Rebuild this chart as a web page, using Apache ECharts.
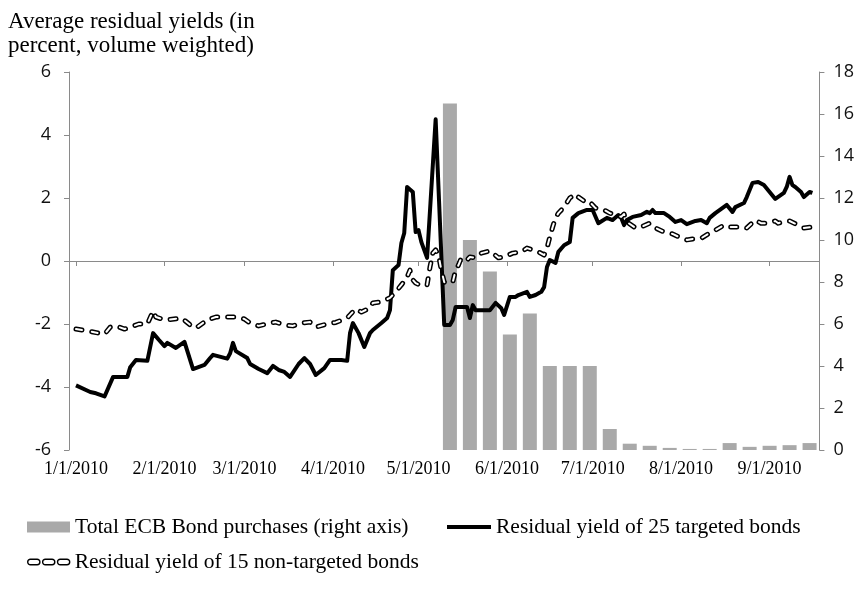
<!DOCTYPE html>
<html>
<head>
<meta charset="utf-8">
<script src="https://cdn.jsdelivr.net/npm/echarts@6/dist/echarts.min.js"></script>
<style>
html,body{margin:0;padding:0;background:#fff;}
#chart{width:857px;height:597px;}
</style>
</head>
<body>
<div id="chart"></div>
<script>
const leftAxisTicks = [-6, -4, -2, 0, 2, 4, 6];
const rightAxisTicks = [0, 2, 4, 6, 8, 10, 12, 14, 16, 18];

const purchaseDates = ['2010-05-12','2010-05-19','2010-05-26','2010-06-02','2010-06-09','2010-06-16','2010-06-23','2010-06-30','2010-07-07','2010-07-14','2010-07-21','2010-07-28','2010-08-04','2010-08-11','2010-08-18','2010-08-25','2010-09-01','2010-09-08','2010-09-15'];
const purchases = [16.5, 10.0, 8.5, 5.5, 6.5, 4.0, 4.0, 4.0, 1.0, 0.3, 0.2, 0.1, 0.05, 0.05, 0.33, 0.15, 0.2, 0.23, 0.33];

const targetedDates = ['2010-01-01','2010-01-06','2010-01-08','2010-01-11','2010-01-14','2010-01-19','2010-01-20','2010-01-22','2010-01-26','2010-01-28','2010-01-30','2010-02-01','2010-02-02','2010-02-05','2010-02-08','2010-02-11','2010-02-15','2010-02-17','2010-02-18','2010-02-23','2010-02-24','2010-02-25','2010-02-26','2010-03-02','2010-03-03','2010-03-06','2010-03-09','2010-03-11','2010-03-13','2010-03-15','2010-03-17','2010-03-20','2010-03-22','2010-03-24','2010-03-26','2010-03-29','2010-03-31','2010-04-04','2010-04-06','2010-04-07','2010-04-08','2010-04-10','2010-04-12','2010-04-14','2010-04-15','2010-04-18','2010-04-20','2010-04-21','2010-04-22','2010-04-24','2010-04-25','2010-04-26','2010-04-27','2010-04-29','2010-04-30','2010-05-01','2010-05-02','2010-05-04','2010-05-07','2010-05-10','2010-05-12','2010-05-13','2010-05-14','2010-05-16','2010-05-18','2010-05-19','2010-05-20','2010-05-21','2010-05-26','2010-05-28','2010-05-30','2010-05-31','2010-06-02','2010-06-04','2010-06-05','2010-06-08','2010-06-09','2010-06-11','2010-06-13','2010-06-14','2010-06-15','2010-06-16','2010-06-18','2010-06-19','2010-06-21','2010-06-23','2010-06-24','2010-06-26','2010-06-29','2010-07-01','2010-07-03','2010-07-06','2010-07-08','2010-07-10','2010-07-11','2010-07-12','2010-07-13','2010-07-15','2010-07-18','2010-07-20','2010-07-21','2010-07-22','2010-07-23','2010-07-26','2010-07-28','2010-07-30','2010-08-01','2010-08-03','2010-08-06','2010-08-08','2010-08-10','2010-08-11','2010-08-13','2010-08-17','2010-08-19','2010-08-20','2010-08-23','2010-08-24','2010-08-26','2010-08-28','2010-08-30','2010-09-01','2010-09-03','2010-09-06','2010-09-07','2010-09-08','2010-09-09','2010-09-10','2010-09-12','2010-09-13','2010-09-15','2010-09-16'];
const targetedYield = [-3.95,-4.16,-4.2,-4.3,-3.68,-3.68,-3.37,-3.14,-3.17,-2.29,-2.5,-2.7,-2.6,-2.76,-2.57,-3.43,-3.3,-3.08,-2.98,-3.1,-2.93,-2.6,-2.86,-3.08,-3.27,-3.43,-3.56,-3.33,-3.46,-3.52,-3.68,-3.27,-3.08,-3.27,-3.62,-3.4,-3.14,-3.14,-3.17,-2.29,-1.97,-2.29,-2.73,-2.29,-2.19,-1.97,-1.81,-1.56,-0.29,-0.13,0.57,0.89,2.35,2.19,0.92,0.98,0.6,0.1,4.5,-2.03,-2.03,-1.87,-1.46,-1.46,-1.46,-1.81,-1.4,-1.56,-1.56,-1.33,-1.5,-1.71,-1.14,-1.14,-1.08,-0.98,-1.14,-1.08,-0.98,-0.83,-0.19,0.03,-0.06,0.29,0.5,0.6,1.37,1.52,1.62,1.62,1.2,1.37,1.3,1.46,1.37,1.14,1.3,1.4,1.46,1.56,1.52,1.62,1.52,1.52,1.4,1.24,1.3,1.17,1.27,1.3,1.2,1.37,1.52,1.78,1.56,1.71,1.84,2.03,2.48,2.51,2.41,2.19,1.97,2.16,2.35,2.67,2.41,2.35,2.19,2.03,2.19,2.16];

const nonTargetedDates = ['2010-01-01','2010-01-05','2010-01-09','2010-01-11','2010-01-13','2010-01-15','2010-01-18','2010-01-20','2010-01-23','2010-01-26','2010-01-28','2010-01-29','2010-01-31','2010-02-02','2010-02-07','2010-02-10','2010-02-12','2010-02-16','2010-02-19','2010-02-23','2010-02-26','2010-03-01','2010-03-03','2010-03-06','2010-03-10','2010-03-12','2010-03-15','2010-03-18','2010-03-21','2010-03-24','2010-03-26','2010-03-31','2010-04-02','2010-04-06','2010-04-07','2010-04-09','2010-04-11','2010-04-14','2010-04-15','2010-04-18','2010-04-21','2010-04-23','2010-04-25','2010-04-27','2010-04-28','2010-04-29','2010-04-30','2010-05-02','2010-05-04','2010-05-05','2010-05-06','2010-05-07','2010-05-08','2010-05-09','2010-05-10','2010-05-11','2010-05-13','2010-05-14','2010-05-15','2010-05-16','2010-05-18','2010-05-19','2010-05-21','2010-05-23','2010-05-26','2010-05-27','2010-05-29','2010-05-31','2010-06-03','2010-06-06','2010-06-08','2010-06-10','2010-06-12','2010-06-14','2010-06-15','2010-06-16','2010-06-17','2010-06-18','2010-06-19','2010-06-21','2010-06-23','2010-06-25','2010-06-26','2010-06-29','2010-06-30','2010-07-02','2010-07-03','2010-07-05','2010-07-07','2010-07-09','2010-07-11','2010-07-12','2010-07-13','2010-07-16','2010-07-18','2010-07-21','2010-07-23','2010-07-26','2010-07-29','2010-08-01','2010-08-03','2010-08-05','2010-08-08','2010-08-11','2010-08-13','2010-08-16','2010-08-18','2010-08-22','2010-08-24','2010-08-27','2010-08-29','2010-08-31','2010-09-03','2010-09-04','2010-09-07','2010-09-08','2010-09-11','2010-09-13','2010-09-16'];
const nonTargetedYield = [-2.16,-2.22,-2.29,-2.32,-2.1,-2.06,-2.16,-2.1,-2.0,-2.0,-1.59,-1.78,-1.84,-1.87,-1.81,-2.03,-2.13,-1.87,-1.78,-1.78,-1.78,-1.84,-1.97,-2.06,-1.97,-1.94,-2.03,-2.06,-1.97,-1.94,-2.1,-1.97,-1.95,-1.81,-1.71,-1.52,-1.62,-1.49,-1.33,-1.3,-1.17,-0.98,-0.76,-0.51,-0.29,-0.6,-0.7,-0.79,-0.76,-0.2,0.25,0.35,0.19,-0.29,-0.67,-0.7,-0.67,-0.29,-0.13,0.1,0.03,0.13,0.1,0.25,0.32,0.25,0.1,0.13,0.25,0.29,0.41,0.35,0.29,0.19,0.41,0.76,1.08,1.37,1.52,1.71,2.0,2.13,2.03,1.84,1.87,1.68,1.65,1.62,1.52,1.46,1.4,1.49,1.24,1.05,1.08,1.2,1.05,0.92,0.86,0.73,0.67,0.7,0.72,0.89,0.98,1.14,1.08,1.08,1.05,1.3,1.2,1.2,1.27,1.2,1.27,1.27,1.14,1.05,1.08];

const seriesNames = ['Total ECB Bond purchases (right axis)', 'Residual yield of 25 targeted bonds', 'Residual yield of 15 non-targeted bonds'];

const zip = (a, b) => a.map((d, i) => [d, b[i]]);
const axisGray = '#8a8a8a';
const serif = '"Liberation Serif", "Times New Roman", serif';
const sans = '"Open Sans", Lato, "Liberation Sans", sans-serif';
const legendText = {fontFamily: serif, fontSize: 21.5, color: '#000'};

const chart = echarts.init(document.getElementById('chart'), null, {renderer: 'canvas'});
const option = {
  animation: false,
  backgroundColor: '#fff',
  title: {
    text: 'Average residual yields (in\npercent, volume weighted)',
    left: 8, top: 10, padding: 0,
    textStyle: {fontFamily: serif, fontSize: 23, fontWeight: 'normal', color: '#000', lineHeight: 24}
  },
  grid: {left: 69, right: 37, top: 72, bottom: 147, containLabel: false},
  legend: [
    {data: [{name: seriesNames[0], icon: 'rect'}], left: 22, top: 511, itemWidth: 43, itemHeight: 11,
     selectedMode: false, textStyle: legendText},
    {data: [{name: seriesNames[1], icon: 'rect', itemStyle: {color: '#000'}}], left: 442, top: 511, itemWidth: 44, itemHeight: 4,
     selectedMode: false, textStyle: legendText},
    {data: [{name: seriesNames[2],
             icon: 'path://M2,0h5a2,2 0 0 1 0,4h-5a2,2 0 0 1 0,-4z M13,0h5a2,2 0 0 1 0,4h-5a2,2 0 0 1 0,-4z M24,0h5a2,2 0 0 1 0,4h-5a2,2 0 0 1 0,-4z',
             itemStyle: {color: '#fff', borderColor: '#000', borderWidth: 1.4}}],
     left: 22, top: 546, itemWidth: 42, itemHeight: 8,
     selectedMode: false, textStyle: legendText}
  ],
  xAxis: {
    type: 'time',
    min: '2010-01-01', max: '2010-09-16',
    splitNumber: 9,
    minInterval: 28 * 86400000, maxInterval: 31 * 86400000,
    axisLine: {show: true, lineStyle: {color: axisGray, width: 1}},
    axisTick: {show: true, length: 5, lineStyle: {color: axisGray}},
    splitLine: {show: false},
    axisLabel: {
      margin: 10, fontFamily: serif, fontSize: 18, color: '#000', hideOverlap: false,
      formatter: function (v) { const d = new Date(v); return (d.getMonth() + 1) + '/' + d.getDate() + '/' + d.getFullYear(); }
    }
  },
  yAxis: [
    {type: 'value', min: leftAxisTicks[0], max: leftAxisTicks[leftAxisTicks.length - 1], interval: 2, position: 'left',
     axisLine: {show: true, lineStyle: {color: axisGray}},
     axisTick: {show: true, length: 5, lineStyle: {color: axisGray}},
     splitLine: {show: false},
     axisLabel: {margin: 18, fontFamily: sans, fontSize: 18, color: '#111'}},
    {type: 'value', min: rightAxisTicks[0], max: rightAxisTicks[rightAxisTicks.length - 1], interval: 2, position: 'right',
     axisLine: {show: true, lineStyle: {color: axisGray}},
     axisTick: {show: true, length: 5, lineStyle: {color: axisGray}},
     splitLine: {show: false},
     axisLabel: {margin: 14, fontFamily: sans, fontSize: 18, color: '#111'}}
  ],
  series: [
    {name: seriesNames[0], type: 'bar', yAxisIndex: 1, barWidth: 14, clip: false,
     itemStyle: {color: '#a9a9a9'}, data: zip(purchaseDates, purchases), z: 1},
    {name: seriesNames[1], type: 'line', yAxisIndex: 0, symbol: 'none', clip: false,
     lineStyle: {color: '#000', width: 4, join: 'round'}, itemStyle: {color: '#000'},
     data: zip(targetedDates, targetedYield), z: 3},
    {name: seriesNames[2], type: 'line', yAxisIndex: 0, symbol: 'none', clip: false,
     lineStyle: {color: '#000', width: 5, type: [6, 10], cap: 'round', join: 'round'}, itemStyle: {color: '#000'},
     data: zip(nonTargetedDates, nonTargetedYield), z: 4},
    {name: 'inner', type: 'line', yAxisIndex: 0, symbol: 'none', clip: false, silent: true,
     lineStyle: {color: '#fff', width: 2, type: [6, 10], cap: 'round', join: 'round'},
     data: zip(nonTargetedDates, nonTargetedYield), z: 5}
  ]
};
chart.setOption(option);
</script>
</body>
</html>
